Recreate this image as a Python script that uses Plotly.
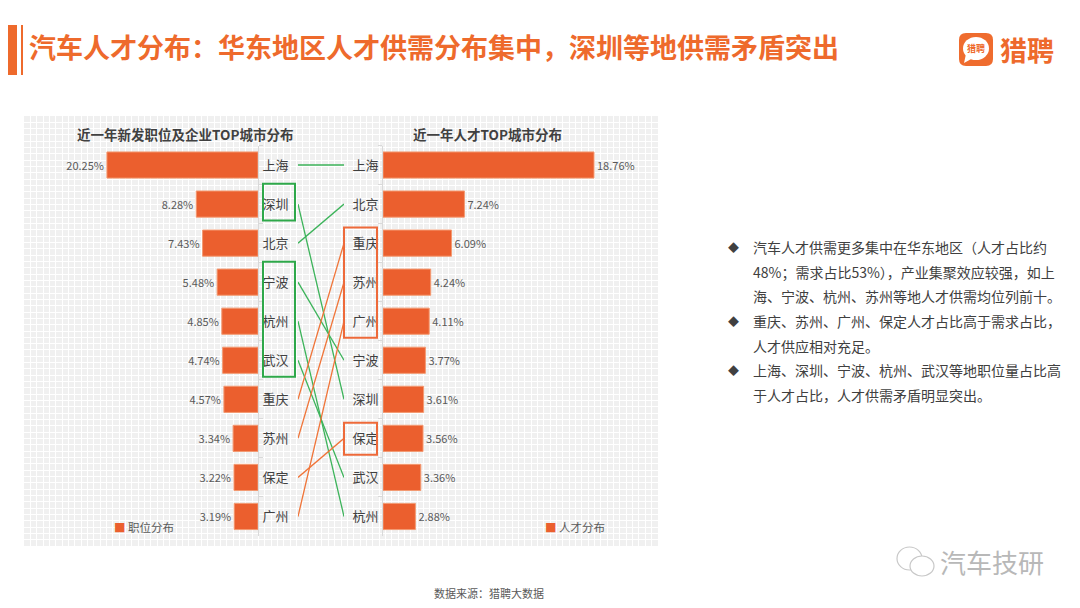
import plotly.graph_objects as go

# ---- data ----
job_cities = ["上海", "深圳", "北京", "宁波", "杭州", "武汉", "重庆", "苏州", "保定", "广州"]
job_share = [20.25, 8.28, 7.43, 5.48, 4.85, 4.74, 4.57, 3.34, 3.22, 3.19]

talent_cities = ["上海", "北京", "重庆", "苏州", "广州", "宁波", "深圳", "保定", "武汉", "杭州"]
talent_share = [18.76, 7.24, 6.09, 4.24, 4.11, 3.77, 3.61, 3.56, 3.36, 2.88]

left_title = "近一年新发职位及企业TOP城市分布"
right_title = "近一年人才TOP城市分布"
left_legend = "职位分布"
right_legend = "人才分布"

left_boxes = [["深圳"], ["宁波", "杭州", "武汉"]]
right_boxes = [["重庆", "苏州", "广州"], ["保定"]]

notes = [
    ["汽车人才供需更多集中在华东地区（人才占比约",
     "48%；需求占比53%），产业集聚效应较强，如上",
     "海、宁波、杭州、苏州等地人才供需均位列前十。"],
    ["重庆、苏州、广州、保定人才占比高于需求占比，",
     "人才供应相对充足。"],
    ["上海、深圳、宁波、杭州、武汉等地职位量占比高",
     "于人才占比，人才供需矛盾明显突出。"],
]

# page body has an 8px margin, so the figure is a bit smaller and shifted
OFF = 8
W, H = 1080 - OFF, 608 - OFF
FONT = "Noto Sans CJK SC"
ORANGE = "#EB5F2E"
GREEN = "#3CB35A"
LINE_OR = "#F07438"
GRAY = "#595959"
DARK = "#404040"


def px(x):
    return (x - OFF) / W


def py(y):
    return 1 - (y - OFF) / H


fig = go.Figure()

# background grid subplot (drawn first)
fig.add_trace(go.Scatter(x=[], y=[], xaxis="x", yaxis="y", showlegend=False, hoverinfo="skip"))

# left bars
fig.add_trace(go.Bar(
    x=job_share, y=job_cities, orientation="h", xaxis="x2", yaxis="y2",
    marker=dict(color=ORANGE, line=dict(color="#F39A72", width=1)),
    width=0.67, name=left_legend, showlegend=False,
    text=[f"{v:.2f}%" for v in job_share], textposition="outside",
    textfont=dict(size=11, color=GRAY), cliponaxis=False,
))

# right bars
fig.add_trace(go.Bar(
    x=talent_share, y=talent_cities, orientation="h", xaxis="x3", yaxis="y3",
    marker=dict(color=ORANGE, line=dict(color="#F39A72", width=1)),
    width=0.67, name=right_legend, showlegend=False,
    text=[f"{v:.2f}%" for v in talent_share], textposition="outside",
    textfont=dict(size=11, color=GRAY), cliponaxis=False,
))

# connecting lines
job_map = dict(zip(job_cities, job_share))
talent_map = dict(zip(talent_cities, talent_share))
for i, city in enumerate(job_cities):
    j = talent_cities.index(city)
    color = GREEN if job_map[city] > talent_map[city] else LINE_OR
    fig.add_trace(go.Scatter(
        x=[0, 1], y=[i, j], mode="lines", xaxis="x4", yaxis="y4",
        line=dict(color=color, width=1.3), showlegend=False, hoverinfo="skip",
    ))

y_dom = [py(536), py(145.5)]
cat_axis = dict(type="category", range=[9.5, -0.5], showline=True, linecolor="#D9D9D9",
                linewidth=1, ticks="outside", tickson="boundaries", ticklen=4,
                tickcolor="#D9D9D9", tickfont=dict(size=13, color=DARK),
                ticklabelstandoff=1, showgrid=False)

fig.update_layout(
    width=W, height=H,
    margin=dict(l=0, r=0, t=0, b=0),
    paper_bgcolor="white", plot_bgcolor="rgba(0,0,0,0)",
    font=dict(family=FONT, color=GRAY),
    showlegend=False,
    xaxis=dict(domain=[px(24), px(658)], range=[0, 100], dtick=1, showgrid=True,
               gridcolor="white", gridwidth=1, zeroline=False, showticklabels=False),
    yaxis=dict(domain=[py(546), py(116)], range=[0, 68], dtick=1, showgrid=True,
               gridcolor="white", gridwidth=1, zeroline=False, showticklabels=False),
    xaxis2=dict(domain=[px(40), px(258)], range=[29.22, 0], visible=False, anchor="y2"),
    yaxis2=dict(domain=y_dom, anchor="x2", side="right",
                categoryorder="array", categoryarray=job_cities, **cat_axis),
    xaxis3=dict(domain=[px(383), px(640)], range=[0, 22.85], visible=False, anchor="y3"),
    yaxis3=dict(domain=y_dom, anchor="x3", side="left",
                categoryorder="array", categoryarray=talent_cities, **cat_axis),
    xaxis4=dict(domain=[px(298), px(344)], range=[0, 1], visible=False, anchor="y4"),
    yaxis4=dict(domain=y_dom, range=[9.5, -0.5], visible=False, anchor="x4"),
)

shapes = []
# grey panel
shapes.append(dict(type="rect", xref="paper", yref="paper", x0=px(24), x1=px(658),
                   y0=py(546), y1=py(116), fillcolor="#F0F0F0", line_width=0, layer="below"))
# title accent bar
shapes.append(dict(type="rect", xref="paper", yref="paper", x0=0, x1=px(17),
                   y0=py(75), y1=py(25), fillcolor="#EE6A2C", line_width=0))
shapes.append(dict(type="rect", xref="paper", yref="paper", x0=px(21), x1=px(23),
                   y0=py(75), y1=py(25), fillcolor="#EE6A2C", line_width=0))

# highlight boxes
for grp in left_boxes:
    idx = [job_cities.index(c) for c in grp]
    shapes.append(dict(type="rect", xref="paper", yref="y2", x0=px(263), x1=px(295),
                       y0=min(idx) - 0.52, y1=max(idx) + 0.42,
                       line=dict(color="#2EA84A", width=2)))
for grp in right_boxes:
    idx = [talent_cities.index(c) for c in grp]
    shapes.append(dict(type="rect", xref="paper", yref="y3", x0=px(344), x1=px(377),
                       y0=min(idx) - 0.4, y1=max(idx) + 0.42,
                       line=dict(color="#EE6A3A", width=2)))

# logo icon
x0, x1, y0, y1, r = 959, 993, 33, 66, 7
path = (f"M {px(x0 + r)},{py(y0)} L {px(x1 - r)},{py(y0)} "
        f"Q {px(x1)},{py(y0)} {px(x1)},{py(y0 + r)} L {px(x1)},{py(y1 - r)} "
        f"Q {px(x1)},{py(y1)} {px(x1 - r)},{py(y1)} L {px(x0 + r)},{py(y1)} "
        f"Q {px(x0)},{py(y1)} {px(x0)},{py(y1 - r)} L {px(x0)},{py(y0 + r)} "
        f"Q {px(x0)},{py(y0)} {px(x0 + r)},{py(y0)} Z")
shapes.append(dict(type="path", xref="paper", yref="paper", path=path,
                   fillcolor="#EF6C2E", line_width=0))
shapes.append(dict(type="circle", xref="paper", yref="paper", x0=px(963), x1=px(989),
                   y0=py(60), y1=py(37), fillcolor="white", line_width=0))
shapes.append(dict(type="path", xref="paper", yref="paper",
                   path=f"M {px(966)},{py(54)} L {px(964)},{py(63)} L {px(973)},{py(58)} Z",
                   fillcolor="white", line_width=0))

# wechat watermark icon
shapes.append(dict(type="circle", xref="paper", yref="paper", x0=px(897), x1=px(922),
                   y0=py(570), y1=py(547), line=dict(color="#C8C8C8", width=1.2)))
shapes.append(dict(type="circle", xref="paper", yref="paper", x0=px(910), x1=px(934),
                   y0=py(576), y1=py(556), fillcolor="white", line=dict(color="#C8C8C8", width=1.2)))
fig.update_layout(shapes=shapes)


def note(text, x, y, size, color, anchor="left", **kw):
    return dict(text=text, x=px(x), y=py(y), xanchor=anchor, yanchor="middle",
                showarrow=False, xref="paper", yref="paper",
                font=dict(size=size, color=color, **kw))


ann = [
    note("<b>汽车人才分布：华东地区人才供需分布集中，深圳等地供需矛盾突出</b>", 27, 46, 27, "#EE6A2C"),
    note("<b>猎聘</b>", 998, 49, 27, "#EE6A2C"),
    note("<b>猎聘</b>", 976, 48.5, 9, "#EE6A2C", "center"),
    note("<b>" + left_title + "</b>", 185, 134, 13.5, DARK, "center"),
    note("<b>" + right_title + "</b>", 487, 134, 13.5, DARK, "center"),
    note(f'<span style="color:{ORANGE}">■</span> ' + left_legend, 112, 527, 11.5, GRAY),
    note(f'<span style="color:{ORANGE}">■</span> ' + right_legend, 543, 527, 11.5, GRAY),
    note("数据来源：猎聘大数据", 489, 593, 11, GRAY, "center"),
    note("汽车技研", 938, 561, 26, "#B8B8B8"),
]

# bullet notes
line_y = 247
for block in notes:
    ann.append(note("◆", 733, line_y, 11, DARK, "center"))
    for line in block:
        ann.append(note(line, 751, line_y, 14, DARK))
        line_y += 24.7

fig.update_layout(annotations=ann)

fig.write_html("out.html")
